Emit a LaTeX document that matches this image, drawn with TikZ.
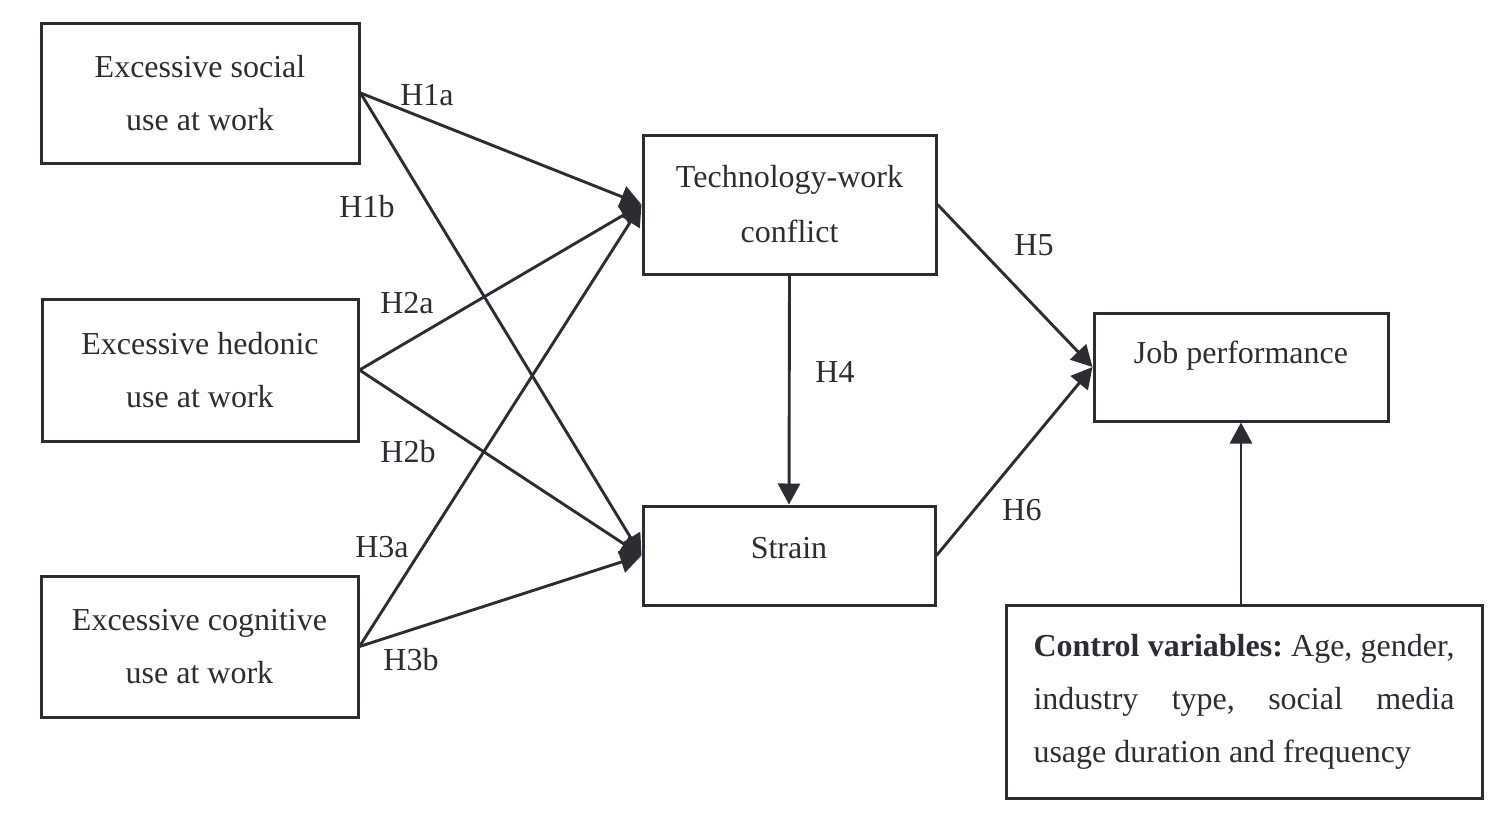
\documentclass[tikz,border=0pt]{standalone}
\usepackage{fontspec}
\setmainfont{Liberation Serif}
\usetikzlibrary{arrows.meta}
\definecolor{ink}{RGB}{43,45,51}
\begin{document}
\frenchspacing
\begin{tikzpicture}[x=1pt,y=-1pt,
  every node/.style={font=\fontsize{32}{53}\selectfont, text=ink},
  box/.style={draw=ink, line width=3pt, rectangle, inner sep=0pt, align=center},
  conn/.style={draw=ink, line width=2.9pt, -{Triangle[length=21pt,width=22pt]}},
  hlab/.style={inner sep=0pt}]
\useasboundingbox (0,0) rectangle (1508,812);
% boxes
\node[box, minimum width=318pt, minimum height=140pt] (b1) at (200,93) {Excessive social\\use at work};
\node[box, minimum width=316pt, minimum height=142pt] (b2) at (200,370) {Excessive hedonic\\use at work};
\node[box, minimum width=317pt, minimum height=141pt] (b3) at (199.5,646.5) {Excessive cognitive\\use at work};
\node[box, minimum width=293pt, minimum height=139pt] (tech) at (789.5,204.5) {Technology-work\\[2pt]conflict};
\node[box, minimum width=292pt, minimum height=99pt, text depth=16pt] (strain) at (789,555.5) {Strain};
\node[box, minimum width=294pt, minimum height=108pt, text depth=30pt] (job) at (1241,367) {Job performance};
\node[box, minimum width=476pt, minimum height=193pt, text width=421pt, inner xsep=27.5pt, align=justify] (ctrl) at (1244,701.5)
  {\frenchspacing\hyphenpenalty=10000 \textbf{Control variables:} Age, gender,\linebreak industry type, social media\linebreak usage duration and frequency};
% connectors
\draw[conn] (b1.east) -- (tech.west);
\draw[conn] (b1.east) -- (strain.west);
\draw[conn] (b2.east) -- (tech.west);
\draw[conn] (b2.east) -- (strain.west);
\draw[conn] (b3.east) -- (tech.west);
\draw[conn] (b3.east) -- (strain.west);
\draw[conn] (tech.south) -- (strain.north);
\draw[conn] (tech.east) -- (job.west);
\draw[conn] (strain.east) -- (job.west);
\draw[conn] (job.south |- ctrl.north) -- (job.south);
% labels
\node[hlab] (lH1a) at (427,95) {H1a};
\node[hlab] (lH1b) at (367,207) {H1b};
\node[hlab] (lH2a) at (407,303) {H2a};
\node[hlab] (lH2b) at (408,452) {H2b};
\node[hlab] (lH3a) at (382,547) {H3a};
\node[hlab] (lH3b) at (411,660) {H3b};
\node[hlab] (lH4) at (835,372) {H4};
\node[hlab] (lH5) at (1034,245) {H5};
\node[hlab] (lH6) at (1022,510) {H6};
\end{tikzpicture}
\end{document}
